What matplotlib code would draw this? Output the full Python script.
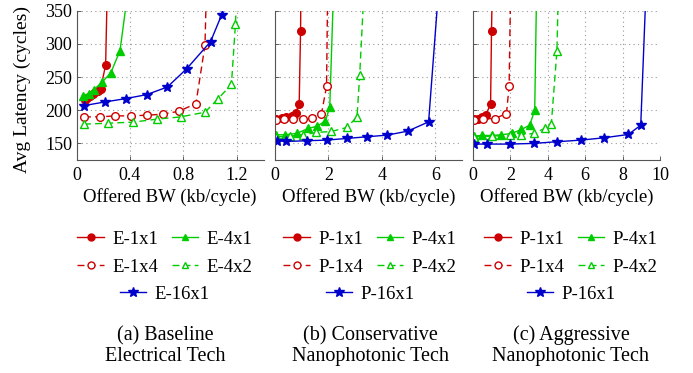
import matplotlib
matplotlib.use("Agg")
import matplotlib.pyplot as plt
from matplotlib.lines import Line2D

plt.rcParams['font.family'] = ['Liberation Serif', 'DejaVu Serif']

RED = '#cc0000'
GREEN = '#00cc00'
BLUE = '#0000cc'

# ---------------- Panel (a) Baseline Electrical ----------------
a_1x1_x = [0.06, 0.08, 0.10, 0.12, 0.14, 0.16, 0.18, 0.218, 0.232]
a_1x1_y = [216, 218, 221, 224, 227, 229, 232, 268, 400]
a_4x1_x = [0.05, 0.09, 0.13, 0.19, 0.256, 0.326, 0.385]
a_4x1_y = [222, 225, 231, 242, 256, 290, 380]
a_1x4_x = [0.056, 0.176, 0.288, 0.405, 0.525, 0.645, 0.767, 0.894, 0.962, 0.972]
a_1x4_y = [190, 190, 191.5, 191.5, 192.5, 194, 198.5, 210, 298, 380]
a_4x2_x = [0.056, 0.238, 0.42, 0.60, 0.78, 0.962, 1.061, 1.16, 1.19, 1.20]
a_4x2_y = [179, 180.5, 182, 186.5, 190, 197, 217.5, 239, 330, 380]
a_16x1_x = [0.056, 0.213, 0.368, 0.525, 0.68, 0.825, 1.004, 1.087]
a_16x1_y = [207, 212.5, 217.5, 223.5, 235, 262.5, 303.5, 344]

# ---------------- Panel (b) Conservative Nanophotonic ----------------
b_1x1_x = [0.05, 0.25, 0.43, 0.62, 0.77, 0.905, 0.957, 0.975]
b_1x1_y = [187.5, 189, 190, 191.5, 196.5, 209, 320, 400]
b_4x1_x = [0.05, 0.37, 0.81, 1.24, 1.58, 1.89, 2.05, 2.19]
b_4x1_y = [163, 163, 165, 172.5, 176, 184, 205, 380]
b_1x4_x = [0.05, 0.35, 0.68, 1.03, 1.37, 1.74, 1.93, 1.97]
b_1x4_y = [186, 187, 187.5, 187.5, 189, 195, 236, 380]
b_4x2_x = [0.05, 0.55, 1.05, 1.55, 2.11, 2.69, 3.07, 3.17, 3.33]
b_4x2_y = [160, 161, 163, 166.5, 168, 174, 190, 252.5, 380]
b_16x1_x = [0.08, 0.43, 1.18, 1.93, 2.69, 3.44, 4.20, 4.97, 5.75, 6.12]
b_16x1_y = [154, 153, 154, 155, 157.5, 160, 162.5, 168.5, 182.5, 380]

# ---------------- Panel (c) Aggressive Nanophotonic ----------------
c_1x1_x = [0.05, 0.29, 0.46, 0.69, 0.94, 0.99, 1.04]
c_1x1_y = [186.5, 187.5, 190, 193.5, 209, 320, 400]
c_4x1_x = [0.05, 0.46, 0.99, 1.52, 2.06, 2.59, 3.03, 3.30, 3.40]
c_4x1_y = [161, 162, 162, 163, 165, 171, 177.5, 200, 380]
c_1x4_x = [0.05, 0.55, 1.17, 1.79, 1.93, 2.01]
c_1x4_y = [186, 187, 187.5, 195, 236, 380]
c_4x2_x = [0.05, 1.0, 2.0, 2.59, 3.24, 3.83, 4.19, 4.49, 4.56]
c_4x2_y = [160, 161, 162, 163, 165, 172.5, 180, 290, 380]
c_16x1_x = [0.05, 0.73, 1.97, 3.24, 4.48, 5.78, 7.02, 8.31, 8.97, 9.25]
c_16x1_y = [149, 149, 149, 150, 152.5, 155, 158.5, 163.5, 177.5, 380]

x_limits = [(0, 1.4), (0, 7), (0, 10)]
x_ticks = [[0, 0.4, 0.8, 1.2], [0, 2, 4, 6], [0, 2, 4, 6, 8, 10]]
x_ticklabels = [['0', '0.4', '0.8', '1.2'], ['0', '2', '4', '6'],
                ['0', '2', '4', '6', '8', '10']]
y_ticks = [150, 200, 250, 300, 350]
y_limits = (125, 350)

prefixes = ['E', 'P', 'P']
captions = ['(a) Baseline\nElectrical Tech',
            '(b) Conservative\nNanophotonic Tech',
            '(c) Aggressive\nNanophotonic Tech']

panels = [
    [(a_1x1_x, a_1x1_y), (a_4x1_x, a_4x1_y), (a_1x4_x, a_1x4_y),
     (a_4x2_x, a_4x2_y), (a_16x1_x, a_16x1_y)],
    [(b_1x1_x, b_1x1_y), (b_4x1_x, b_4x1_y), (b_1x4_x, b_1x4_y),
     (b_4x2_x, b_4x2_y), (b_16x1_x, b_16x1_y)],
    [(c_1x1_x, c_1x1_y), (c_4x1_x, c_4x1_y), (c_1x4_x, c_1x4_y),
     (c_4x2_x, c_4x2_y), (c_16x1_x, c_16x1_y)],
]
series_names = ['1x1', '4x1', '1x4', '4x2', '16x1']
styles = [
    dict(color=RED, ls='-', marker='o', mfc=RED, ms=5.5),
    dict(color=GREEN, ls='-', marker='^', mfc=GREEN, ms=5.5),
    dict(color=RED, ls=(0, (5, 3)), marker='o', mfc='white', ms=5.5),
    dict(color=GREEN, ls=(0, (5, 3)), marker='^', mfc='white', ms=5.5),
    dict(color=BLUE, ls='-', marker='*', mfc=BLUE, ms=7.5),
]

fig = plt.figure(figsize=(6.93, 3.73), dpi=100)
W, H = 693, 373
ax_lefts = [76.5, 275, 473]
ax_width = 187
ax_top_px, ax_bot_px = 10.7, 160
legend_centers = [165, 370, 571]

TICK_FS = 13
XLAB_FS = 13.5
YLAB_FS = 14
LEG_FS = 13.5
CAP_FS = 14.5

for i in range(3):
    ax = fig.add_axes([ax_lefts[i] / W, 1 - ax_bot_px / H,
                       ax_width / W, (ax_bot_px - ax_top_px) / H])
    handles = []
    for (xs, ys), st, nm in zip(panels[i], styles, series_names):
        n = len(xs)
        # last point lies beyond the top of the axis (asymptote) -> no marker
        mk = list(range(n - 1)) if ys[-1] > 350 else list(range(n))
        ax.plot(xs, ys, color=st['color'], ls=st['ls'], lw=1.0,
                marker=st['marker'], mfc=st['mfc'], mec=st['color'],
                ms=st['ms'], mew=1.0, markevery=mk, clip_on=True)
        h = Line2D([], [], color=st['color'], ls=st['ls'], lw=1.0,
                   marker=st['marker'], mfc=st['mfc'], mec=st['color'],
                   ms=st['ms'] - 0.5, mew=1.0)
        handles.append((h, f"{prefixes[i]}-{nm}"))
    ax.set_xlim(*x_limits[i])
    ax.set_ylim(*y_limits)
    ax.set_xticks(x_ticks[i])
    ax.set_xticklabels(x_ticklabels[i])
    ax.set_yticks(y_ticks)
    if i == 0:
        ax.set_yticklabels([str(v) for v in y_ticks])
        ax.set_ylabel('Avg Latency (cycles)', fontsize=YLAB_FS, va='center')
        ax.yaxis.set_label_coords((22 - ax_lefts[0]) / ax_width, 0.47)
    else:
        ax.set_yticklabels([])
    ax.set_xlabel('Offered BW (kb/cycle)', fontsize=XLAB_FS)
    ax.xaxis.set_label_coords(0.5, -(197 - ax_bot_px) / (ax_bot_px - ax_top_px))
    ax.xaxis.label.set_va('center')
    ax.grid(True, ls=(0, (1, 3)), color='#999999', lw=0.8)
    ax.tick_params(direction='in', length=3, labelsize=TICK_FS, width=0.6,
                   color='#444444')
    ax.tick_params(axis='x', pad=5)
    ax.tick_params(axis='y', pad=3)
    for s in ['top', 'right']:
        ax.spines[s].set_visible(False)
    for s in ['left', 'bottom']:
        ax.spines[s].set_linewidth(0.8)
        ax.spines[s].set_color('#555555')

    rows = [[handles[0], handles[1]], [handles[2], handles[3]], [handles[4]]]
    row_y = [239, 267, 294]
    for r, yy in zip(rows, row_y):
        fig.legend([h for h, _ in r], [t for _, t in r], loc='center',
                   bbox_to_anchor=(legend_centers[i] / W, 1 - yy / H),
                   ncol=len(r), frameon=False, fontsize=LEG_FS,
                   handlelength=1.4, handletextpad=0.45,
                   columnspacing=0.75, borderpad=0, borderaxespad=0)
    fig.text(legend_centers[i] / W, 1 - 346 / H, captions[i], ha='center',
             va='center', fontsize=CAP_FS, linespacing=1.15)

fig.savefig('out.png', dpi=100)
